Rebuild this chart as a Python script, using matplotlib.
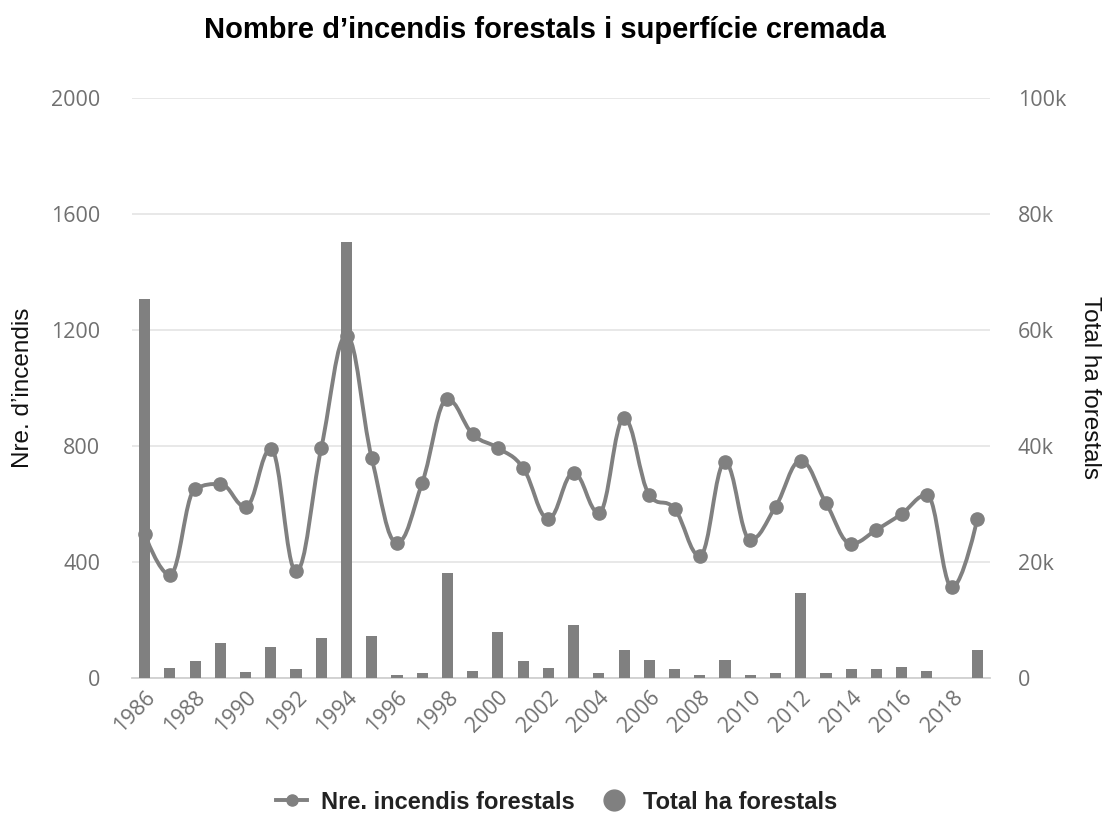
import matplotlib
matplotlib.use("Agg")
import matplotlib.pyplot as plt
from matplotlib.path import Path
from matplotlib.patches import PathPatch
from matplotlib.lines import Line2D
import numpy as np

years = list(range(1986, 2020))
incendis = [496, 354, 651, 668, 589, 789, 366, 792, 1180, 757, 465, 672, 960, 840,
            792, 723, 548, 706, 568, 894, 630, 582, 420, 743, 476, 589, 748, 602,
            462, 510, 565, 630, 311, 548]
hectarees = [65400, 1700, 2800, 5900, 900, 5200, 1400, 6900, 75100, 7100, 400, 700,
             18000, 1200, 7800, 2800, 1700, 9100, 700, 4800, 3100, 1400, 500, 3100,
             500, 800, 14500, 800, 1400, 1400, 1800, 1100, 0, 4800]
left_ticks = [0, 400, 800, 1200, 1600, 2000]
right_ticks = [0, 20000, 40000, 60000, 80000, 100000]
right_labels = ["0", "20k", "40k", "60k", "80k", "100k"]

title = "Nombre d\u2019incendis forestals i superfície cremada"
ylabel_left = "Nre. d\u2019incendis"
ylabel_right = "Total ha forestals"
leg_line = "Nre. incendis forestals"
leg_bar = "Total ha forestals"

GRAY = "#808080"
TICK = "#707070"
cond = ["Liberation Sans", "DejaVu Sans"]
tickfont = ["Open Sans", "DejaVu Sans"]

W, H = 1105, 813
fig = plt.figure(figsize=(W / 100, H / 100), dpi=100)
L, R, T, B = 132, 990, 98, 677.5
ax = fig.add_axes([L / W, 1 - B / H, (R - L) / W, (B - T) / H])
ax2 = ax.twinx()

x = np.arange(len(years))

# Highcharts-like spline
def spline_path(xs, ys, smoothing=1.5):
    n = len(xs)
    lc = [None] * n
    rc = [None] * n
    for i in range(n):
        px, py = xs[i], ys[i]
        if 0 < i < n - 1:
            lx, ly = xs[i - 1], ys[i - 1]
            nx, ny = xs[i + 1], ys[i + 1]
            d = smoothing + 1
            lcx = (smoothing * px + lx) / d
            lcy = (smoothing * py + ly) / d
            rcx = (smoothing * px + nx) / d
            rcy = (smoothing * py + ny) / d
            corr = ((rcy - lcy) * (rcx - px)) / (rcx - lcx) + py - rcy
            lcy += corr
            rcy += corr
            if lcy > ly and lcy > py:
                lcy = max(ly, py); rcy = 2 * py - lcy
            elif lcy < ly and lcy < py:
                lcy = min(ly, py); rcy = 2 * py - lcy
            if rcy > ny and rcy > py:
                rcy = max(ny, py); lcy = 2 * py - rcy
            elif rcy < ny and rcy < py:
                rcy = min(ny, py); lcy = 2 * py - rcy
            lc[i] = (lcx, lcy)
            rc[i] = (rcx, rcy)
        else:
            lc[i] = (px, py)
            rc[i] = (px, py)
    verts = [(xs[0], ys[0])]
    codes = [Path.MOVETO]
    for i in range(1, n):
        verts += [rc[i - 1], lc[i], (xs[i], ys[i])]
        codes += [Path.CURVE4] * 3
    return Path(verts, codes)

path = spline_path(list(x.astype(float)), [float(v) for v in incendis])
ax.add_patch(PathPatch(path, facecolor="none", edgecolor=GRAY, lw=2.8,
                       transform=ax.transData, zorder=3, capstyle="round", joinstyle="round"))
ax.plot(x, incendis, linestyle="none", marker="o", markersize=9.5, color=GRAY, zorder=4)

ax2.bar(x, hectarees, width=0.44, color=GRAY, zorder=3)

ax.set_xlim(-0.5, len(years) - 0.5)
ax.set_ylim(0, 2000)
ax2.set_ylim(0, 100000)
ax.set_yticks(left_ticks)
ax.set_yticklabels([str(t) for t in left_ticks])
ax2.set_yticks(right_ticks)
ax2.set_yticklabels(right_labels)

ax.grid(axis="y", color="#e6e6e6", lw=1.3, zorder=0)
ax.set_axisbelow(True)
for a in (ax, ax2):
    for s in a.spines.values():
        s.set_visible(False)
ax.spines["bottom"].set_visible(True)
ax.spines["bottom"].set_color("#d0d0d0")
ax.spines["bottom"].set_linewidth(1.3)

ax.set_xticks(x[::2])
ax.set_xticklabels([str(y) for y in years[::2]], rotation=45, ha="right",
                   rotation_mode="anchor", family=tickfont, fontsize=15.5, color=TICK)
ax.tick_params(axis="x", length=0, pad=7)
ax.tick_params(axis="y", length=0, pad=23, labelsize=15.5, labelcolor=TICK)
ax2.tick_params(axis="y", length=0, pad=20, labelsize=15.5, labelcolor=TICK)
for lab in ax.get_yticklabels() + ax2.get_yticklabels():
    lab.set_family(tickfont)

ax.set_ylabel(ylabel_left, family=cond, fontsize=17.5, color="#111111")
ax.yaxis.set_label_coords((23 - L) / (R - L), 0.5)
ax.yaxis.label.set_va("center")
ax2.set_ylabel(ylabel_right, family=cond, fontsize=17.5, color="#111111", rotation=270)
ax2.yaxis.set_label_coords((1090 - L) / (R - L), 0.5)
ax2.yaxis.label.set_va("center")

fig.text(545 / W, 1 - 30 / H, title, ha="center", va="center",
         family=cond, fontweight="bold", fontsize=21, color="#000000")

h1 = Line2D([0], [0], color=GRAY, lw=2.8, marker="o", markersize=8)
h2 = Line2D([0], [0], color=GRAY, lw=0, marker="o", markersize=15)
fig.legend([h1, h2], [leg_line, leg_bar], loc="center", bbox_to_anchor=(557 / W, 1 - 802 / H),
           ncol=2, frameon=False, prop={"family": cond, "size": 17, "weight": "bold"},
           handlelength=1.3, columnspacing=1.0, handletextpad=0.6)
for t in fig.legends[0].get_texts():
    t.set_color("#222222")

fig.savefig("out.png", dpi=100)
